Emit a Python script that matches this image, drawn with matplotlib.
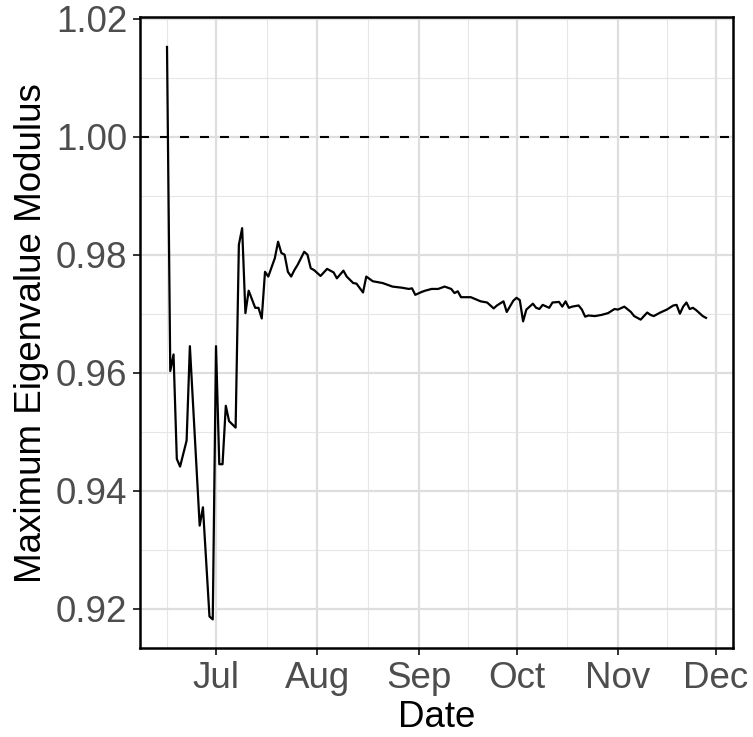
import numpy as np
import pandas as pd
import matplotlib
matplotlib.use("Agg")
import matplotlib.pyplot as plt
import matplotlib.dates as mdates

# days after start date, and the max eigenvalue modulus
start = "2020-07-01"
day = [-15, -14, -13, -12, -11, -9, -8, -5, -4, -2, -1, 0, 1, 2, 3, 4, 6, 7, 8, 9,
       10, 12, 13, 14, 15, 16, 18, 19, 20, 21, 22, 23, 24, 25, 27, 28, 29, 30, 32, 34,
       36, 37, 39, 40, 42, 43, 45, 46, 48, 51, 54, 57, 59, 60, 61, 63, 64, 66, 68, 70,
       72, 73, 74, 75, 78, 81, 83, 85, 86, 88, 89, 91, 92, 93, 94, 95, 97, 98, 99, 100,
       102, 103, 105, 106, 107, 108, 109, 111, 112, 113, 114, 116, 118, 120, 122, 123, 125, 127, 128, 130,
       132, 133, 134, 136, 138, 140, 141, 142, 143, 144, 145, 146, 147, 149, 150]
modulus = [1.0152, 0.9603, 0.9631, 0.9454, 0.9441, 0.9485, 0.9645, 0.9341, 0.9372, 0.9187,
           0.9182, 0.9645, 0.9445, 0.9445, 0.9544, 0.9518, 0.9507, 0.9817, 0.9845, 0.9701,
           0.9739, 0.9710, 0.9710, 0.9692, 0.9771, 0.9763, 0.9794, 0.9822, 0.9803, 0.9800,
           0.9771, 0.9763, 0.9774, 0.9783, 0.9805, 0.9800, 0.9777, 0.9774, 0.9764, 0.9776,
           0.9770, 0.9760, 0.9773, 0.9763, 0.9752, 0.9751, 0.9736, 0.9763, 0.9755, 0.9752,
           0.9746, 0.9744, 0.9742, 0.9743, 0.9732, 0.9737, 0.9739, 0.9742, 0.9742, 0.9746,
           0.9742, 0.9735, 0.9738, 0.9728, 0.9728, 0.9721, 0.9719, 0.9709, 0.9714, 0.9721,
           0.9703, 0.9722, 0.9727, 0.9723, 0.9687, 0.9707, 0.9717, 0.9710, 0.9708, 0.9715,
           0.9710, 0.9719, 0.9720, 0.9712, 0.9721, 0.9710, 0.9712, 0.9714, 0.9707, 0.9695,
           0.9697, 0.9696, 0.9698, 0.9701, 0.9708, 0.9707, 0.9712, 0.9703, 0.9696, 0.9690,
           0.9702, 0.9698, 0.9696, 0.9702, 0.9707, 0.9714, 0.9715, 0.9700, 0.9712, 0.9719,
           0.9708, 0.9710, 0.9706, 0.9696, 0.9693]

y_ticks = [0.92, 0.94, 0.96, 0.98, 1.00, 1.02]
y_minor = [0.93, 0.95, 0.97, 0.99, 1.01]

dates = pd.to_datetime(start) + pd.to_timedelta(day, unit="D")

plt.rcParams['font.family'] = ['Liberation Sans', 'DejaVu Sans']

fig = plt.figure(figsize=(7.53, 7.37), dpi=100)
ax = fig.add_axes([0.186, 0.1207, 0.7874, 0.8556])

# month ticks + ggplot style minor breaks halfway between
months = pd.date_range("2020-06-01", "2021-01-01", freq="MS")
mnum = mdates.date2num(months)
minor_x = (mnum[:-1] + mnum[1:]) / 2
major_x = mnum[1:7]

rng = max(modulus) - min(modulus)
ax.set_ylim(min(modulus) - 0.05 * rng, 1.0202)
drng = day[-1] - day[0]
ax.set_xlim(mdates.date2num(pd.to_datetime(start) + pd.Timedelta(days=day[0] - 0.05 * drng)),
            mdates.date2num(pd.to_datetime(start) + pd.Timedelta(days=day[-1] + 0.05 * drng)))

for v in minor_x:
    ax.axvline(v, color='#E6E6E6', lw=0.8, zorder=0)
for v in y_minor:
    ax.axhline(v, color='#E6E6E6', lw=0.8, zorder=0)
for v in major_x:
    ax.axvline(v, color='#DEDEDE', lw=1.6, zorder=0)
for v in y_ticks:
    ax.axhline(v, color='#DEDEDE', lw=1.6, zorder=0)

ax.axhline(1.0, color='black', lw=1.5, dashes=(4.3, 5.3), zorder=2)
ax.plot(dates, modulus, color='black', lw=1.6, zorder=3)

ax.set_xticks(major_x)
ax.xaxis.set_major_formatter(mdates.DateFormatter('%b'))
ax.set_yticks(y_ticks)
ax.set_yticklabels([f"{v:.2f}" for v in y_ticks])

ax.tick_params(axis='both', labelsize=26.5, labelcolor='#4D4D4D', color='#333333',
               length=5, width=1.4, pad=4)
for s in ax.spines.values():
    s.set_linewidth(1.8)
    s.set_color('black')

ax.set_xlabel("Date", fontsize=26.5, color='black', labelpad=3)
ax.set_ylabel("Maximum Eigenvalue Modulus", fontsize=26.5, color='black', labelpad=5)

fig.savefig("out.png", dpi=100)
